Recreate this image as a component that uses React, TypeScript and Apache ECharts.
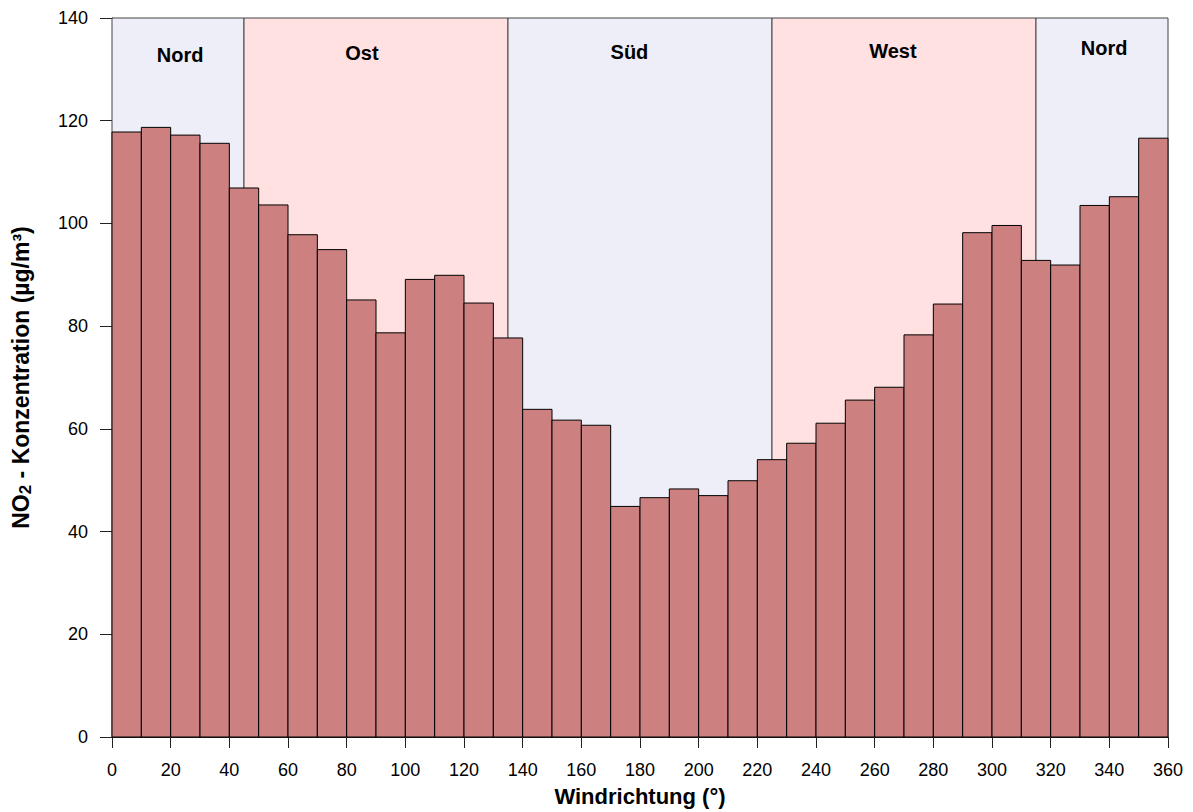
import React, { useEffect, useRef } from "react";
import * as echarts from "echarts";

const binStart = [0, 10, 20, 30, 40, 50, 60, 70, 80, 90, 100, 110, 120, 130, 140, 150, 160, 170, 180, 190, 200, 210, 220, 230, 240, 250, 260, 270, 280, 290, 300, 310, 320, 330, 340, 350];
const binWidth = 10;
const no2Values = [117.8, 118.7, 117.2, 115.6, 106.9, 103.6, 97.8, 94.9, 85.1, 78.7, 89.1, 89.9, 84.5, 77.7, 63.8, 61.7, 60.7, 44.9, 46.6, 48.3, 47.0, 49.9, 54.0, 57.2, 61.1, 65.6, 68.1, 78.3, 84.3, 98.2, 99.6, 92.8, 91.9, 103.5, 105.2, 116.6];

const regionNames = ["Nord", "Ost", "Süd", "West", "Nord"];
const regionFrom = [0, 45, 135, 225, 315];
const regionTo = [45, 135, 225, 315, 360];
const regionLabelAt = [23.2, 85.2, 176.4, 266.2, 338.2];
const regionLabelY = [132.8, 133.2, 133.4, 133.6, 134.2];
const regionColors = ["#EEEEF8", "#FFE1E1", "#EEEEF8", "#FFE1E1", "#EEEEF8"];

const yTicks = { min: 0, max: 140, interval: 20 };
const xTicks = { min: 0, max: 360, interval: 20 };

const FONT = "Liberation Sans, Arial, sans-serif";

export default function App() {
  const ref = useRef<HTMLDivElement>(null);
  useEffect(() => {
    if (!ref.current) return;
    const chart = echarts.init(ref.current, null, { renderer: "svg" });
    const barData = binStart.map((s, i) => [s, s + binWidth, no2Values[i]]);
    const regionData = regionNames.map((n, i) => [regionFrom[i], regionTo[i], 140, i, regionLabelAt[i], regionLabelY[i]]);
    chart.setOption({
      animation: false,
      backgroundColor: "#ffffff",
      textStyle: { fontFamily: FONT },
      grid: { left: 112, right: 25, top: 18, bottom: 70, containLabel: false },
      xAxis: {
        type: "value",
        min: xTicks.min,
        max: xTicks.max,
        interval: xTicks.interval,
        splitLine: { show: false },
        axisLine: { show: true, lineStyle: { color: "#000", width: 1 } },
        axisTick: { show: true, length: 11, lineStyle: { color: "#222", width: 1 } },
        axisLabel: { color: "#000", fontSize: 18, margin: 24, fontFamily: FONT },
        name: "Windrichtung (°)",
        nameLocation: "middle",
        nameGap: 48,
        nameTextStyle: { color: "#000", fontSize: 22, fontWeight: "bold", fontFamily: FONT },
      },
      yAxis: {
        type: "value",
        min: yTicks.min,
        max: yTicks.max,
        interval: yTicks.interval,
        splitLine: { show: false },
        axisLine: { show: true, lineStyle: { color: "#000", width: 1 } },
        axisTick: { show: true, length: 12, lineStyle: { color: "#222", width: 1 } },
        axisLabel: { color: "#000", fontSize: 18, margin: 24, fontFamily: FONT },
        name: "{b|NO}{s|2}{b| - Konzentration (µg/m³)}",
        nameLocation: "middle",
        nameRotate: 90,
        nameGap: 78,
        nameTextStyle: {
          color: "#000",
          fontFamily: FONT,
          rich: {
            b: { fontSize: 23, fontWeight: "bold", color: "#000", fontFamily: FONT },
            s: { fontSize: 17, fontWeight: "bold", color: "#000", padding: [10, 0, 0, 0], fontFamily: FONT },
          },
        },
      },
      series: [
        {
          type: "custom",
          name: "regions",
          z: 1,
          data: regionData,
          encode: { x: [0, 1], y: 2 },
          renderItem: (params: any, api: any) => {
            const x0 = api.value(0);
            const x1 = api.value(1);
            const idx = api.value(3);
            const p0 = api.coord([x0, 140]);
            const p1 = api.coord([x1, 0]);
            const lp = api.coord([api.value(4), api.value(5)]);
            return {
              type: "group",
              children: [
                {
                  type: "rect",
                  shape: { x: p0[0], y: p0[1], width: p1[0] - p0[0], height: p1[1] - p0[1] },
                  style: { fill: regionColors[idx], stroke: "#444", lineWidth: 1 },
                },
                {
                  type: "text",
                  x: lp[0],
                  y: lp[1],
                  style: {
                    text: regionNames[idx],
                    fill: "#000",
                    font: "bold 20px 'Liberation Sans', Arial, sans-serif",
                    align: "center",
                    verticalAlign: "middle",
                  },
                },
              ],
            };
          },
        },
        {
          type: "custom",
          name: "NO2",
          z: 2,
          data: barData,
          encode: { x: [0, 1], y: 2 },
          renderItem: (params: any, api: any) => {
            const p0 = api.coord([api.value(0), api.value(2)]);
            const p1 = api.coord([api.value(1), 0]);
            return {
              type: "rect",
              shape: { x: p0[0], y: p0[1], width: p1[0] - p0[0], height: p1[1] - p0[1] },
              style: { fill: "#CD8080", stroke: "#000", lineWidth: 1 },
            };
          },
        },
      ],
    });
    return () => chart.dispose();
  }, []);
  return <div ref={ref} style={{ width: 1193, height: 812, position: "absolute", left: 0, top: 0 }} />;
}
